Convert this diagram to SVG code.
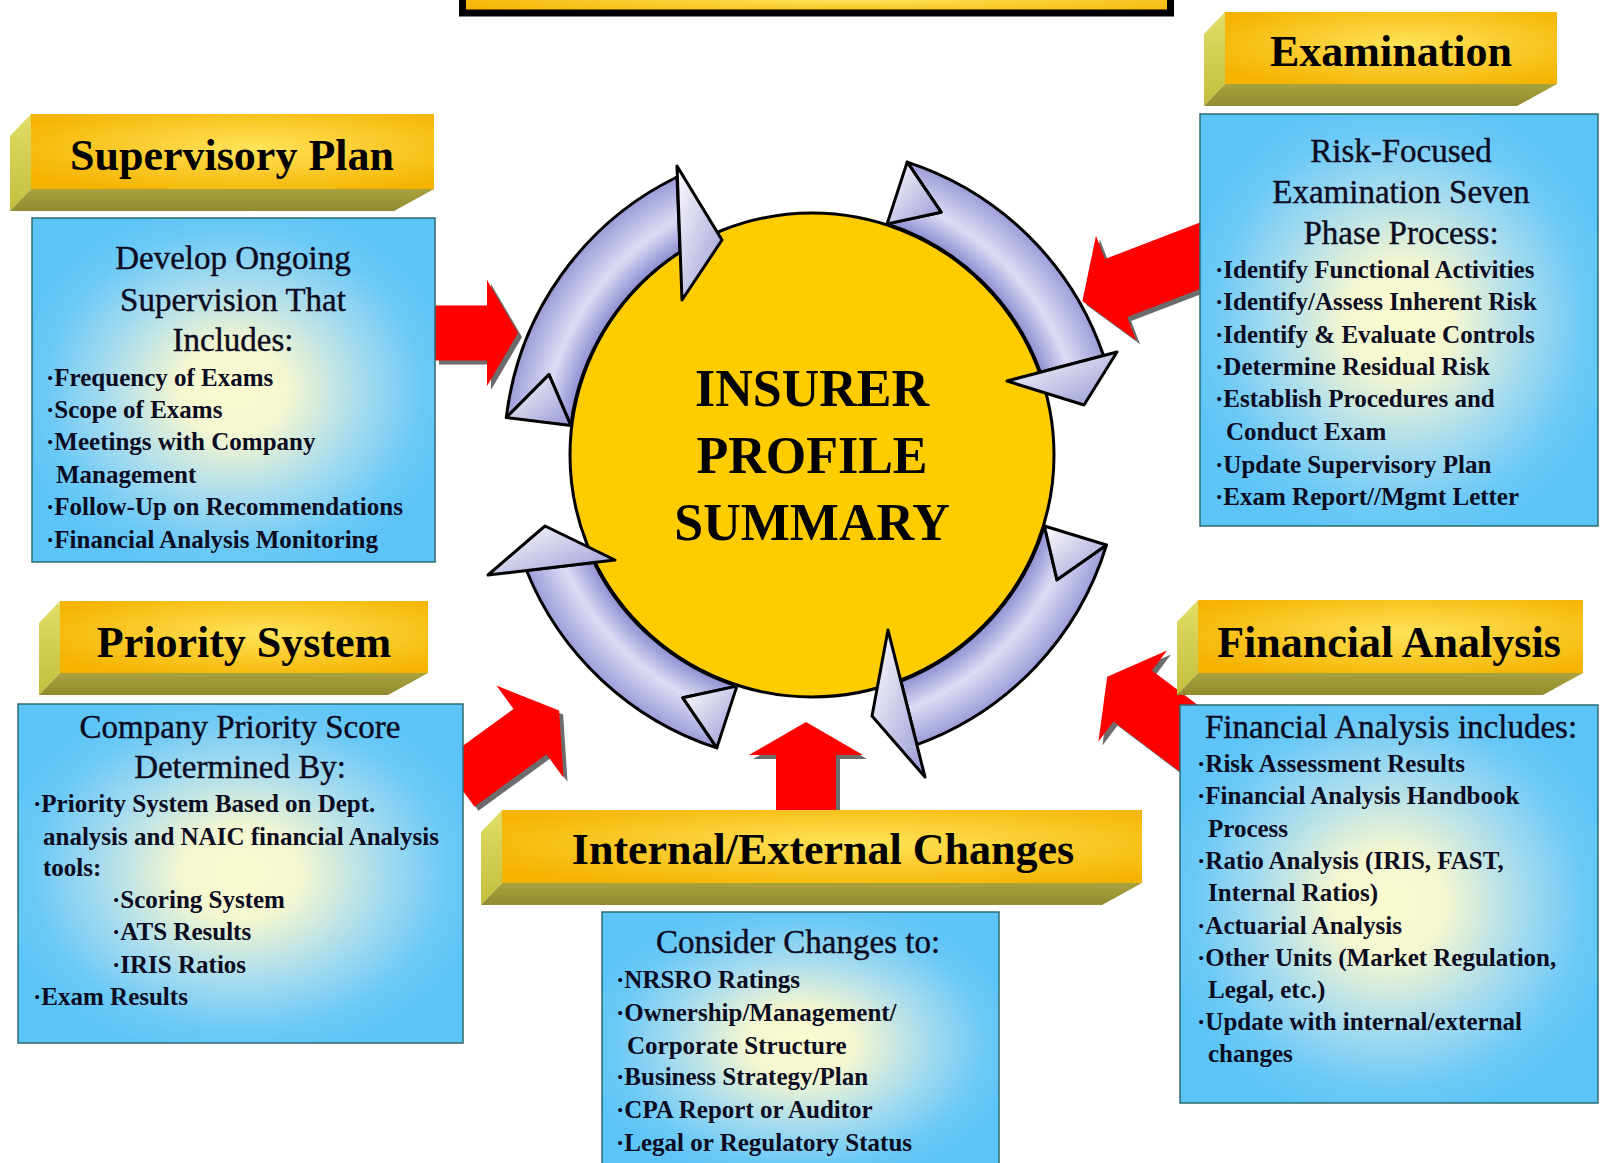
<svg xmlns="http://www.w3.org/2000/svg" xmlns:xlink="http://www.w3.org/1999/xlink" width="1601" height="1163" viewBox="0 0 1601 1163">
  <style>
    .hdr { font-family: "Liberation Serif", "Times New Roman", serif; font-weight: bold; font-size: 44px; text-anchor: middle; fill: #000; }
    .ttl { font-family: "Liberation Serif", "Times New Roman", serif; font-size: 33px; text-anchor: middle; fill: #0b0b22; stroke: #0b0b22; stroke-width: 0.4; }
    .bul { font-family: "Liberation Serif", "Times New Roman", serif; font-weight: bold; font-size: 25px; fill: #0b0b22; }
    .core { font-family: "Liberation Serif", "Times New Roman", serif; font-weight: bold; font-size: 52px; text-anchor: middle; fill: #000; }
    .front { fill: url(#gold); }
    .side { fill: url(#sideG); }
    .under { fill: url(#underG); }
    .panel { fill: url(#sky); stroke: #2e6a6e; stroke-width: 1.5; }
    .body { fill: url(#ringG); stroke: #000; stroke-width: 3; stroke-linejoin: round; }
    .tipf { fill: url(#headG); stroke: #000; stroke-width: 3; stroke-linejoin: round; }
    .shadow { fill: #6c6c6c; }
    .red { fill: #ff0000; }
  </style>
  <defs>
    <radialGradient id="gold" cx="0.55" cy="0.45" r="0.65">
      <stop offset="0" stop-color="#ffe35a"/>
      <stop offset="1" stop-color="#f5b300"/>
    </radialGradient>
    <linearGradient id="sideG" x1="0" y1="0" x2="0" y2="1">
      <stop offset="0" stop-color="#e2dd66"/>
      <stop offset="1" stop-color="#c3be3c"/>
    </linearGradient>
    <linearGradient id="underG" x1="0" y1="0" x2="0" y2="1">
      <stop offset="0" stop-color="#a8a23e"/>
      <stop offset="1" stop-color="#918b30"/>
    </linearGradient>
    <radialGradient id="sky" cx="0.5" cy="0.5" r="0.55">
      <stop offset="0" stop-color="#fbfbd0"/>
      <stop offset="0.25" stop-color="#f3f6d0"/>
      <stop offset="0.58" stop-color="#a6dbef"/>
      <stop offset="0.85" stop-color="#6bc9f6"/>
      <stop offset="1" stop-color="#5dc4f8"/>
    </radialGradient>
    <radialGradient id="ringG" gradientUnits="userSpaceOnUse" cx="812" cy="455" r="310">
      <stop offset="0.775" stop-color="#8888d0"/>
      <stop offset="0.875" stop-color="#dcdcf5"/>
      <stop offset="1" stop-color="#9a9ad8"/>
    </radialGradient>
    <linearGradient id="headG" x1="0" y1="0" x2="1" y2="1">
      <stop offset="0" stop-color="#ffffff"/>
      <stop offset="1" stop-color="#9898d6"/>
    </linearGradient>
    <!-- block arrow outlines, pointing along +x from their origin -->
    <polygon id="ar1" points="0,-27.5 52,-27.5 52,-53 83,0 52,53 52,27.5 0,27.5" transform="translate(435,333)"/>
    <polygon id="ar2" points="0,-31 106,-31 106,-56 142,0 106,56 106,31 0,31" transform="translate(1215,250) rotate(159)"/>
    <polygon id="ar3" points="0,-28 89,-28 89,-57 125,0 89,57 89,28 0,28" transform="translate(458,784) rotate(-36)"/>
    <polygon id="ar4" points="0,-30 57,-30 57,-57 90,0 57,57 57,30 0,30" transform="translate(806,812) rotate(-90)"/>
    <polygon id="ar5" points="0,-32 98,-32 98,-57 130,0 98,57 98,32 0,32" transform="translate(1211,755) rotate(-143)"/>
  </defs>

  <rect width="1601" height="1163" fill="#ffffff"/>

  <!-- title banner, running off the top edge -->
  <g id="title">
    <rect x="462.5" y="-10" width="708" height="23" fill="url(#gold)" stroke="#000" stroke-width="7"/>
  </g>

  <!-- central hub -->
  <g id="insurer-profile">
    <circle cx="812" cy="455" r="242" fill="#ffcc00" stroke="#000" stroke-width="3"/>
    <text class="core" x="812" y="406">INSURER</text>
    <text class="core" x="812" y="473">PROFILE</text>
    <text class="core" x="812" y="540">SUMMARY</text>
  </g>

  <!-- four curved arrows circling the hub clockwise -->
  <g id="cycle">
    <path class="body" d="M506.3,417.5 A308,308 0 0 1 677,177 L680,252 A243,243 0 0 0 570.8,425.4 L549,374.6 Z"/>
    <path class="tipf" d="M506.3,417.5 L549,374.6 L570.8,425.4 Z"/>
    <path class="tipf" d="M677,166 L722,240 L682,300 Z"/>

    <path class="body" d="M907.2,162.1 A308,308 0 0 1 1103.5,355.6 L1040.4,372.2 A243,243 0 0 0 887.1,223.9 L941.1,212.2 Z"/>
    <path class="tipf" d="M907.2,162.1 L941.1,212.2 L887.1,223.9 Z"/>
    <path class="tipf" d="M1117,352 L1084,405 L1007,381 Z"/>

    <path class="body" d="M1106.5,545 A308,308 0 0 1 916.8,744.6 L900.9,681.2 A243,243 0 0 0 1044.4,526 L1057,579.8 Z"/>
    <path class="tipf" d="M1106.5,545 L1057,579.8 L1044.4,526 Z"/>
    <path class="tipf" d="M925,777 L872,716 L888,630 Z"/>

    <path class="body" d="M716.8,747.9 A308,308 0 0 1 526.5,570.5 L594.1,562.5 A243,243 0 0 0 736.9,686.1 L682.9,697.8 Z"/>
    <path class="tipf" d="M716.8,747.9 L682.9,697.8 L736.9,686.1 Z"/>
    <path class="tipf" d="M488,575 L545,526 L615,560 Z"/>
  </g>

  <!-- red feed arrows into the hub -->
  <g id="connectors">
    <use xlink:href="#ar1" class="shadow" transform="translate(4,4)"/>
    <use xlink:href="#ar1" class="red"/>
    <use xlink:href="#ar2" class="shadow" transform="translate(4,4)"/>
    <use xlink:href="#ar2" class="red"/>
    <use xlink:href="#ar3" class="shadow" transform="translate(4,4)"/>
    <use xlink:href="#ar3" class="red"/>
    <use xlink:href="#ar4" class="shadow" transform="translate(4,4)"/>
    <use xlink:href="#ar4" class="red"/>
    <use xlink:href="#ar5" class="shadow" transform="translate(4,4)"/>
    <use xlink:href="#ar5" class="red"/>
  </g>

  <g id="supervisory-plan">
    <polygon class="side" points="31,114 10,136 10,211 31,189"/>
    <polygon class="under" points="31,189 10,211 394,211 434,189"/>
    <rect class="front" x="31" y="114" width="403" height="75"/>
    <text class="hdr" x="232" y="170">Supervisory Plan</text>
    <rect class="panel" x="32" y="218" width="403" height="344"/>
    <text class="ttl" x="233" y="269">Develop Ongoing</text>
    <text class="ttl" x="233" y="311">Supervision That</text>
    <text class="ttl" x="233" y="351">Includes:</text>
    <text class="bul" x="46" y="386">·Frequency of Exams</text>
    <text class="bul" x="46" y="418">·Scope of Exams</text>
    <text class="bul" x="46" y="450">·Meetings with Company</text>
    <text class="bul" x="56" y="483">Management</text>
    <text class="bul" x="46" y="515">·Follow-Up on Recommendations</text>
    <text class="bul" x="46" y="548">·Financial Analysis Monitoring</text>
  </g>

  <g id="examination">
    <polygon class="side" points="1225,12 1204,34 1204,106 1225,84"/>
    <polygon class="under" points="1225,84 1204,106 1517,106 1557,84"/>
    <rect class="front" x="1225" y="12" width="332" height="72"/>
    <text class="hdr" x="1391" y="66">Examination</text>
    <rect class="panel" x="1200" y="114" width="398" height="412"/>
    <text class="ttl" x="1401" y="162">Risk-Focused</text>
    <text class="ttl" x="1401" y="203">Examination Seven</text>
    <text class="ttl" x="1401" y="244">Phase Process:</text>
    <text class="bul" x="1215" y="278">·Identify Functional Activities</text>
    <text class="bul" x="1215" y="310">·Identify/Assess Inherent Risk</text>
    <text class="bul" x="1215" y="343">·Identify &amp; Evaluate Controls</text>
    <text class="bul" x="1215" y="375">·Determine Residual Risk</text>
    <text class="bul" x="1215" y="407">·Establish Procedures and</text>
    <text class="bul" x="1226" y="440">Conduct Exam</text>
    <text class="bul" x="1215" y="473">·Update Supervisory Plan</text>
    <text class="bul" x="1215" y="505">·Exam Report//Mgmt Letter</text>
  </g>

  <g id="priority-system">
    <polygon class="side" points="60,601 39,623 39,695 60,673"/>
    <polygon class="under" points="60,673 39,695 388,695 428,673"/>
    <rect class="front" x="60" y="601" width="368" height="72"/>
    <text class="hdr" x="244" y="657">Priority System</text>
    <rect class="panel" x="18" y="704" width="445" height="339"/>
    <text class="ttl" x="240" y="738">Company Priority Score</text>
    <text class="ttl" x="240" y="778">Determined By:</text>
    <text class="bul" x="33" y="812">·Priority System Based on Dept.</text>
    <text class="bul" x="43" y="845">analysis and NAIC financial Analysis</text>
    <text class="bul" x="43" y="876">tools:</text>
    <text class="bul" x="112" y="908">·Scoring System</text>
    <text class="bul" x="112" y="940">·ATS Results</text>
    <text class="bul" x="112" y="973">·IRIS Ratios</text>
    <text class="bul" x="33" y="1005">·Exam Results</text>
  </g>

  <g id="financial-analysis">
    <polygon class="side" points="1198,600 1177,622 1177,695 1198,673"/>
    <polygon class="under" points="1198,673 1177,695 1543,695 1583,673"/>
    <rect class="front" x="1198" y="600" width="385" height="73"/>
    <text class="hdr" x="1389" y="657">Financial Analysis</text>
    <rect class="panel" x="1180" y="705" width="418" height="398"/>
    <text class="ttl" x="1391" y="738">Financial Analysis includes:</text>
    <text class="bul" x="1197" y="772">·Risk Assessment Results</text>
    <text class="bul" x="1197" y="804">·Financial Analysis Handbook</text>
    <text class="bul" x="1208" y="837">Process</text>
    <text class="bul" x="1197" y="869">·Ratio Analysis (IRIS, FAST,</text>
    <text class="bul" x="1208" y="901">Internal Ratios)</text>
    <text class="bul" x="1197" y="934">·Actuarial Analysis</text>
    <text class="bul" x="1197" y="966">·Other Units (Market Regulation,</text>
    <text class="bul" x="1208" y="998">Legal, etc.)</text>
    <text class="bul" x="1197" y="1030">·Update with internal/external</text>
    <text class="bul" x="1208" y="1062">changes</text>
  </g>

  <g id="internal-external-changes">
    <polygon class="side" points="502,810 481,832 481,905 502,883"/>
    <polygon class="under" points="502,883 481,905 1102,905 1142,883"/>
    <rect class="front" x="502" y="810" width="640" height="73"/>
    <text class="hdr" x="823" y="864">Internal/External Changes</text>
    <rect class="panel" x="602" y="912" width="397" height="262"/>
    <text class="ttl" x="798" y="953">Consider Changes to:</text>
    <text class="bul" x="616" y="988">·NRSRO Ratings</text>
    <text class="bul" x="616" y="1021">·Ownership/Management/</text>
    <text class="bul" x="627" y="1054">Corporate Structure</text>
    <text class="bul" x="616" y="1085">·Business Strategy/Plan</text>
    <text class="bul" x="616" y="1118">·CPA Report or Auditor</text>
    <text class="bul" x="616" y="1151">·Legal or Regulatory Status</text>
  </g>
</svg>
